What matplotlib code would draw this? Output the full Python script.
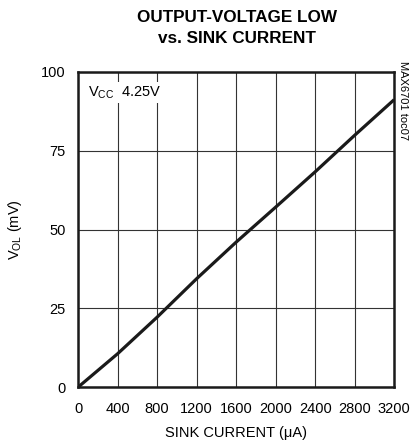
import matplotlib
matplotlib.use('Agg')
import matplotlib.pyplot as plt

plt.rcParams['font.family'] = ['Liberation Sans', 'DejaVu Sans']
plt.rcParams['mathtext.fontset'] = 'custom'
plt.rcParams['mathtext.rm'] = 'Liberation Sans'

# sink current (uA) and V_OL (mV)
sink_current = [0, 400, 800, 1200, 1600, 2000, 2400, 2800, 3200]
v_ol = [0, 10.6, 22.2, 34.4, 46.0, 57.1, 68.3, 79.9, 91.2]

x_ticks = [0, 400, 800, 1200, 1600, 2000, 2400, 2800, 3200]
y_ticks = [0, 25, 50, 75, 100]

fig = plt.figure(figsize=(4.11, 4.44), dpi=100)
ax = fig.add_axes([0.190, 0.128, 0.769, 0.710])

ax.plot(sink_current, v_ol, color='#1a1a1a', linewidth=2.3, solid_capstyle='butt', zorder=3)

ax.set_xlim(0, 3200)
ax.set_ylim(0, 100)
ax.set_xticks(x_ticks)
ax.set_yticks(y_ticks)
ax.grid(True, color='#333333', linewidth=0.8)
ax.tick_params(length=0, labelsize=10.5)
ax.tick_params(axis='x', pad=11)
ax.tick_params(axis='y', pad=9)
for s in ax.spines.values():
    s.set_linewidth(1.8)
    s.set_color('#1a1a1a')

ax.set_xlabel('SINK CURRENT (\u03bcA)', fontsize=10.5, labelpad=7)
ax.set_ylabel('V$_{\\mathrm{OL}}$ (mV)', fontsize=10.5, labelpad=12)

fig.text(0.577, 0.937, 'OUTPUT-VOLTAGE LOW\nvs. SINK CURRENT', ha='center', va='center',
         fontsize=12.3, fontweight='bold', linespacing=1.45)

ax.text(0.03, 0.935, 'V$_{\\mathrm{CC}}$  4.25V', transform=ax.transAxes, fontsize=10.5,
        ha='left', va='center', zorder=4,
        bbox=dict(facecolor='white', edgecolor='none', pad=1.5))

fig.text(0.981, 0.862, 'MAX6701 toc07', rotation=270, ha='center', va='top', fontsize=8)

fig.savefig('out.png', dpi=100)
